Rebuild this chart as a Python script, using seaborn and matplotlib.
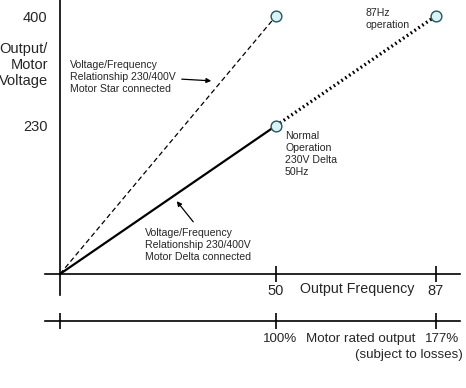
import seaborn as sns
import matplotlib.pyplot as plt
import pandas as pd

# values
star_freq = [0, 50]
star_volt = [0, 400]
delta_freq = [0, 50]
delta_volt = [0, 230]
ext_freq = [50, 87]
ext_volt = [230, 400]
point_freq = [50, 50, 87]
point_volt = [400, 230, 400]
volt_ticks = [230, 400]
freq_ticks = [50, 87]
output_ticks = [0, 50, 87]
output_labels = ["100%", "177%"]

sns.set_style("white")
plt.rcParams['font.family'] = ['Liberation Sans', 'DejaVu Sans']

fig = plt.figure(figsize=(4.66, 3.88), dpi=100)
ax = fig.add_axes([0, 0, 1, 1])
ax.patch.set_alpha(0)

# pixel mapping: x = 60 + 4.32*f ; y = 274 - 0.645*v
XL = (-60 / 4.32, (466 - 60) / 4.32)
YL = ((274 - 388) / 0.645, 274 / 0.645)
ax.set_xlim(XL)
ax.set_ylim(YL)

sns.lineplot(x=star_freq, y=star_volt, ax=ax, color="black", lw=0.9,
             linestyle=(0, (4, 2.5)))
sns.lineplot(x=delta_freq, y=delta_volt, ax=ax, color="black", lw=1.6)
sns.lineplot(x=ext_freq, y=ext_volt, ax=ax, color="black", lw=2.4,
             linestyle=(0, (0.5, 0.9)))
pts = pd.DataFrame({"f": point_freq, "v": point_volt})
sns.scatterplot(data=pts, x="f", y="v", ax=ax, s=60, color="#d8f3f3",
                edgecolor="#245660", linewidth=1.0, zorder=5, clip_on=False)

# axes through the origin
for s in ["top", "right"]:
    ax.spines[s].set_visible(False)
ax.spines["left"].set_position(("data", 0))
ax.spines["bottom"].set_position(("data", 0))
ax.spines["left"].set_bounds((274 - 295) / 0.645, YL[1])
ax.spines["bottom"].set_bounds((45 - 60) / 4.32, (460 - 60) / 4.32)
for s in ["left", "bottom"]:
    ax.spines[s].set_color("black")
    ax.spines[s].set_linewidth(1.2)

ax.set_yticks(volt_ticks)
ax.set_yticklabels([str(v) for v in volt_ticks], fontsize=10.5)
ax.tick_params(axis="y", left=True, length=0, pad=9)
ax.set_xticks(freq_ticks)
ax.set_xticklabels([str(f) for f in freq_ticks], fontsize=10.5)
ax.tick_params(axis="x", bottom=True, direction="inout", length=11, width=1.2,
               color="black", pad=2)
ax.set_xlabel("")
ax.set_ylabel("")

def px(x, y):
    return (x - 60) / 4.32, (274 - y) / 0.645

ax.text(*px(48, 65), "Output/\nMotor\nVoltage", fontsize=10.5, ha="right",
        va="center", linespacing=1.2)
ax.text(*px(357, 289), "Output Frequency", fontsize=10.3, ha="center", va="center")

small = dict(fontsize=7.6, linespacing=1.25)
ax.text(*px(70, 77), "Voltage/Frequency\nRelationship 230/400V\nMotor Star connected",
        ha="left", va="center", **small)
ax.annotate("", xy=px(214, 81), xytext=px(179, 79),
            arrowprops=dict(arrowstyle="-|>", color="black", lw=0.9,
                            mutation_scale=7))
ax.text(*px(145, 245), "Voltage/Frequency\nRelationship 230/400V\nMotor Delta connected",
        ha="left", va="center", **small)
ax.annotate("", xy=px(175, 199), xytext=px(195, 224),
            arrowprops=dict(arrowstyle="-|>", color="black", lw=0.9,
                            mutation_scale=7))
ax.text(*px(285, 154), "Normal\nOperation\n230V Delta\n50Hz",
        ha="left", va="center", **small)
ax.text(*px(366, 19), "87Hz\noperation", ha="left", va="center", **small)

# second scale: motor rated output
ax2 = fig.add_axes([0, (388 - 321) / 388, 1, 0.01])
ax2.patch.set_alpha(0)
ax2.set_xlim(XL)
ax2.set_yticks([])
for s in ["top", "right", "left"]:
    ax2.spines[s].set_visible(False)
ax2.spines["bottom"].set_bounds((45 - 60) / 4.32, (460 - 60) / 4.32)
ax2.spines["bottom"].set_color("black")
ax2.spines["bottom"].set_linewidth(1.2)
ax2.set_xticks(output_ticks)
ax2.set_xticklabels([])
ax2.tick_params(axis="x", bottom=True, direction="inout", length=11, width=1.2,
                color="black")
lab_fs = 9.6
ax.text(*px(280, 339), output_labels[0], fontsize=lab_fs, ha="center", va="center")
ax.text(*px(361, 339), "Motor rated output", fontsize=lab_fs, ha="center", va="center")
ax.text(*px(459, 339), output_labels[1], fontsize=lab_fs, ha="right", va="center")
ax.text(*px(463, 355), "(subject to losses)", fontsize=lab_fs, ha="right", va="center")

fig.savefig("out.png", dpi=100)
